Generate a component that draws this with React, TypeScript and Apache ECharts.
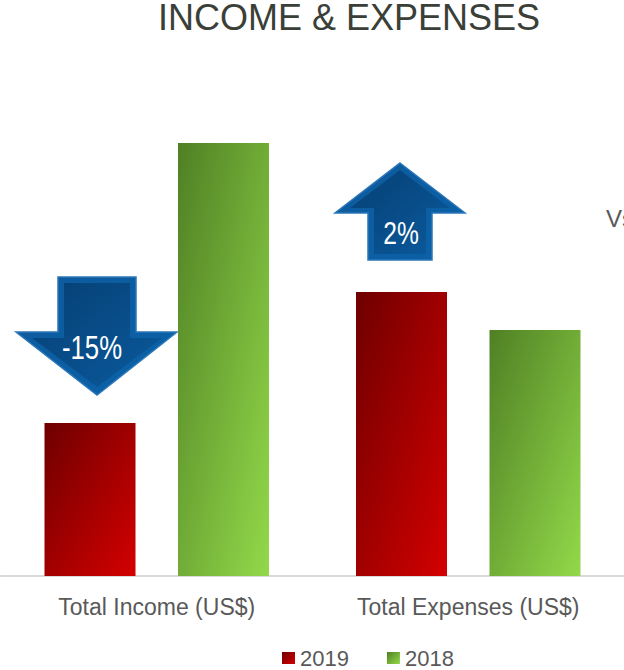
import React, { useEffect, useRef } from "react";
import * as echarts from "echarts";

const categories = ["Total Income (US$)", "Total Expenses (US$)"];
const seriesNames = ["2019", "2018"];
const values2019 = [153, 284];
const values2018 = [433, 246];
const changeLabels = ["-15%", "2%"];

const FONT = "'Liberation Sans', Arial, sans-serif";

export default function App() {
  const ref = useRef<HTMLDivElement>(null);
  useEffect(() => {
    document.body.style.margin = "0";
    const chart = echarts.init(ref.current!, null, { renderer: "svg" });
    const red = new echarts.graphic.LinearGradient(0, 0, 1, 1, [
      { offset: 0, color: "#6e0000" },
      { offset: 1, color: "#d40000" },
    ]);
    const green = new echarts.graphic.LinearGradient(0, 0, 1, 1, [
      { offset: 0, color: "#4f8024" },
      { offset: 1, color: "#93d94a" },
    ]);
    const outerBlue = () =>
      new echarts.graphic.LinearGradient(0, 0, 1, 1, [
        { offset: 0, color: "#0d5a9c" },
        { offset: 1, color: "#0b62a8" },
      ]);
    const innerBlue = () =>
      new echarts.graphic.LinearGradient(0, 0, 1, 1, [
        { offset: 0, color: "#063f73" },
        { offset: 1, color: "#0a5a9e" },
      ]);
    chart.setOption({
      animation: false,
      title: {
        text: "INCOME & EXPENSES",
        left: 349,
        textAlign: "center",
        top: -1,
        padding: 0,
        textStyle: { fontFamily: FONT, fontSize: 36, lineHeight: 36, fontWeight: "normal", color: "#3a4038" },
      },
      legend: {
        data: [
          { name: seriesNames[0], itemStyle: { color: red } },
          { name: seriesNames[1], itemStyle: { color: green } },
        ],
        left: 277,
        top: 642,
        itemWidth: 13,
        itemHeight: 12,
        itemGap: 38,
        icon: "rect",
        textStyle: { fontFamily: FONT, fontSize: 22, color: "#595959" },
      },
      grid: { left: 1, width: 628, top: 76, bottom: 94 },
      xAxis: {
        type: "category",
        data: categories,
        axisLine: { lineStyle: { color: "#d9d9d9", width: 2 } },
        axisTick: { show: false },
        axisLabel: { fontFamily: FONT, fontSize: 23, color: "#595959", margin: 19 },
      },
      yAxis: { type: "value", min: 0, max: 500, show: false, splitLine: { show: false } },
      series: [
        { name: seriesNames[0], type: "bar", data: values2019, barWidth: 91, barGap: "46.7%", itemStyle: { color: red } },
        { name: seriesNames[1], type: "bar", data: values2018, barWidth: 91, itemStyle: { color: green } },
      ],
      graphic: [
        {
          type: "polygon",
          shape: { points: [[58, 277], [136, 277], [136, 332], [177, 332], [97, 395], [16, 332], [58, 332]] },
          style: { fill: outerBlue(), stroke: "#2b76b8", lineWidth: 1.5 },
        },
        {
          type: "polygon",
          shape: { points: [[64, 283], [130, 283], [130, 338], [162, 338], [97, 387], [32, 338], [64, 338]] },
          style: { fill: innerBlue() },
        },
        {
          type: "text",
          x: 92,
          y: 347,
          scaleX: 0.78,
          style: { text: changeLabels[0], fill: "#ffffff", fontSize: 33, fontFamily: FONT, align: "center", verticalAlign: "middle" },
        },
        {
          type: "polygon",
          shape: { points: [[400, 163], [465, 213], [432, 213], [432, 260], [368, 260], [368, 213], [335, 213]] },
          style: { fill: outerBlue(), stroke: "#2b76b8", lineWidth: 1.5 },
        },
        {
          type: "polygon",
          shape: { points: [[400, 170], [450, 208], [426, 208], [426, 254], [374, 254], [374, 208], [350, 208]] },
          style: { fill: innerBlue() },
        },
        {
          type: "text",
          x: 401,
          y: 233,
          scaleX: 0.77,
          style: { text: changeLabels[1], fill: "#ffffff", fontSize: 32, fontFamily: FONT, align: "center", verticalAlign: "middle" },
        },
        {
          type: "text",
          x: 606,
          y: 218,
          style: { text: "Vs", fill: "#595959", fontSize: 24, fontFamily: FONT, verticalAlign: "middle" },
        },
      ],
    });
    return () => chart.dispose();
  }, []);
  return <div ref={ref} style={{ position: "absolute", left: 0, top: 0, width: 624, height: 670 }} />;
}
